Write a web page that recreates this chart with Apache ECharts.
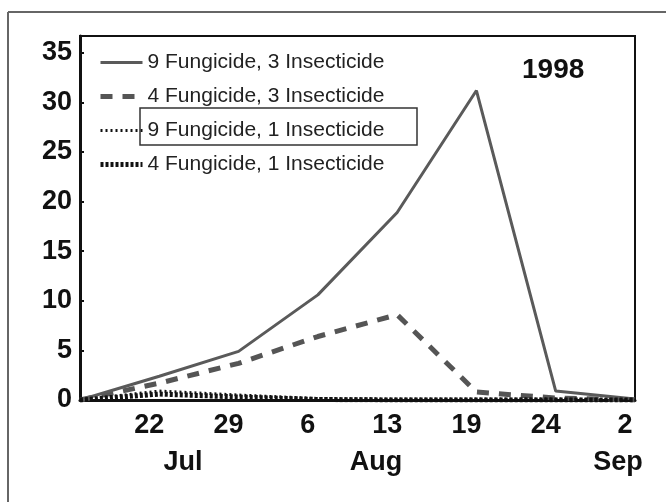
<!DOCTYPE html>
<html>
<head>
<meta charset="utf-8">
<script src="https://cdn.jsdelivr.net/npm/echarts@6/dist/echarts.min.js"></script>
<style>
  html, body { margin: 0; padding: 0; background: #fff; }
  #main { width: 666px; height: 502px; }
</style>
</head>
<body>
<div id="main"></div>
<script>
// sampling dates (Jul 15 .. Sep 2), equally spaced on the chart
var dates = ['', '22', '29', '6', '13', '19', '24', '2'];
var yTicks = [0, 5, 10, 15, 20, 25, 30, 35];

// series values
var f9i3 = [0, 2.4, 4.9, 10.6, 18.9, 31.2, 0.9, 0.1];
var f4i3 = [0, 1.7, 3.7, 6.4, 8.6, 0.8, 0.2, 0];
var f9i1 = [0, 0.9, 0.5, 0.15, 0.1, 0.1, 0.1, 0];
var f4i1 = [0, 0.6, 0.3, 0.05, 0, 0, 0, 0];

var names = [
    '9 Fungicide, 3 Insecticide',
    '4 Fungicide, 3 Insecticide',
    '9 Fungicide, 1 Insecticide',
    '4 Fungicide, 1 Insecticide'
];

// month captions under the date labels
var months = ['Jul', 'Aug', 'Sep'];
var monthX = [183, 376, 618];

window.onload = function () {
    var chart = echarts.init(document.getElementById('main'), null, { renderer: 'canvas' });

    var axisFont = {
        fontFamily: 'Liberation Sans, Arial, sans-serif',
        fontWeight: 'bold',
        fontSize: 27,
        color: '#111'
    };

    var graphics = [
        // outer frame
        { type: 'line', shape: { x1: 8, y1: 12, x2: 666, y2: 12 }, style: { stroke: '#666', lineWidth: 2 } },
        { type: 'line', shape: { x1: 8, y1: 12, x2: 8, y2: 502 }, style: { stroke: '#666', lineWidth: 2 } },
        // box round the third legend entry
        { type: 'rect', shape: { x: 140, y: 108, width: 277, height: 37 }, style: { fill: 'none', stroke: '#333', lineWidth: 1.5 }, z: 10 },
        {
            type: 'text', left: 522, top: 56, z: 10,
            style: { text: '1998', font: 'bold 28px "Liberation Sans", Arial, sans-serif', fill: '#111' }
        }
    ];
    for (let i = 0; i < months.length; i++) {
        graphics.push({
            type: 'text', x: monthX[i], y: 463, z: 10,
            style: {
                text: months[i], align: 'center', verticalAlign: 'middle',
                font: 'bold 27px "Liberation Sans", Arial, sans-serif', fill: '#111'
            }
        });
    }

    let option = {
        backgroundColor: '#fff',
        animation: false,
        grid: {
            left: 80, right: 31, top: 36, bottom: 102,
            show: true, borderColor: '#111', borderWidth: 2
        },
        legend: {
            orient: 'vertical',
            left: 93, top: 47,
            itemWidth: 42, itemHeight: 14, itemGap: 13,
            itemStyle: { opacity: 0 },   // line only, no symbol
            lineStyle: { width: 'inherit' },
            data: names,
            textStyle: {
                fontFamily: 'Liberation Sans, Arial, sans-serif',
                fontSize: 21, lineHeight: 20, color: '#222'
            }
        },
        xAxis: {
            type: 'category',
            boundaryGap: false,
            data: dates,
            axisLine: { lineStyle: { color: '#111', width: 3 } },
            axisTick: { show: false },
            axisLabel: Object.assign({ margin: 12, padding: [0, 20, 0, 0], interval: 0 }, axisFont),
            splitLine: { show: false }
        },
        yAxis: {
            type: 'value',
            min: yTicks[0], max: 36.7, interval: 5,
            axisLine: { show: true, lineStyle: { color: '#111', width: 3 } },
            axisTick: { show: true, inside: true, length: 4, lineStyle: { color: '#111', width: 2 } },
            axisLabel: Object.assign({ margin: 8, showMaxLabel: false }, axisFont),
            splitLine: { show: false }
        },
        graphic: graphics,
        series: [
            {
                name: names[0], type: 'line', data: f9i3, symbol: 'none', z: 4,
                lineStyle: { color: '#5a5a5a', width: 3 }, itemStyle: { color: '#5a5a5a' }
            },
            {
                name: names[1], type: 'line', data: f4i3, symbol: 'none', z: 3,
                lineStyle: { color: '#555', width: 5, type: [12, 10] }, itemStyle: { color: '#555' }
            },
            {
                name: names[2], type: 'line', data: f9i1, symbol: 'none', z: 5,
                lineStyle: { color: '#111', width: 3, type: [2, 3] }, itemStyle: { color: '#111' }
            },
            {
                name: names[3], type: 'line', data: f4i1, symbol: 'none', z: 5,
                lineStyle: { color: '#111', width: 5, type: [3, 2] }, itemStyle: { color: '#111' }
            }
        ]
    };

    chart.setOption(option);
};
</script>
</body>
</html>
